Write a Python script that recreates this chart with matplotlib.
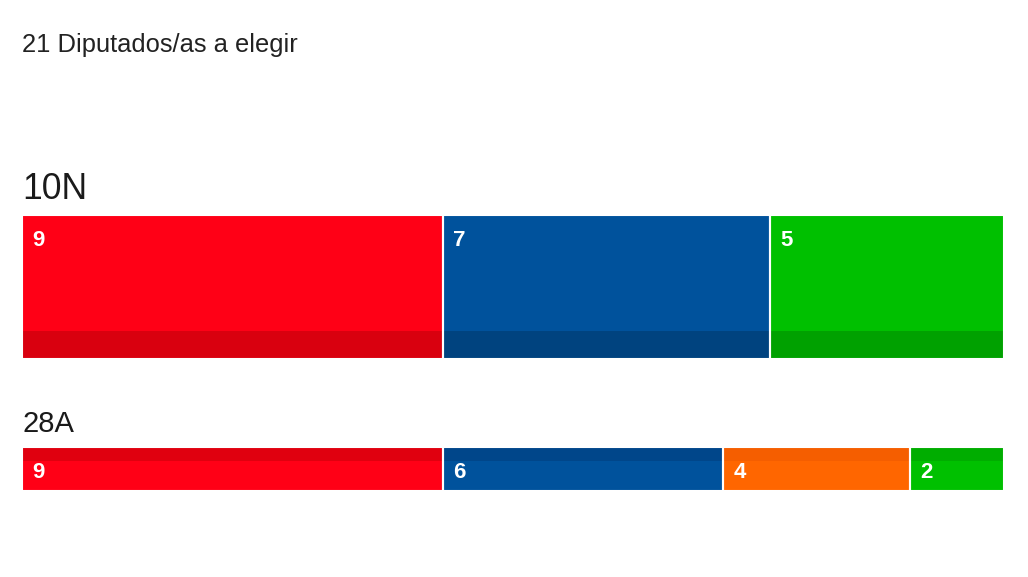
import matplotlib.pyplot as plt

plt.rcParams['font.family'] = ['Liberation Sans', 'DejaVu Sans']

total = 21
title = "21 Diputados/as a elegir"

seats_10n = [9, 7, 5]
colors_10n = ['#ff0016', '#00529c', '#00c000']
dark_10n = ['#d9000f', '#00437f', '#00a100']

seats_28a = [9, 6, 4, 2]
colors_28a = ['#ff0016', '#00529c', '#ff6600', '#00c000']
dark_28a = ['#e0000f', '#00468a', '#f55e00', '#00ad00']

W, H = 1028, 577
fig = plt.figure(figsize=(W / 100, H / 100), dpi=100)
fig.patch.set_facecolor('white')


def px_axes(x0, y0, x1, y1):
    # pixel box (top-left origin) -> axes
    return fig.add_axes([x0 / W, 1 - y1 / H, (x1 - x0) / W, (y1 - y0) / H])


def draw_bar(ax, seats, colors, dark, strip, strip_top, label_top):
    lefts = [sum(seats[:i]) for i in range(len(seats))]
    ax.barh(0, seats, left=lefts, height=1, color=colors, linewidth=0)
    yc = 0.5 - strip / 2 if strip_top else -0.5 + strip / 2
    ax.barh(yc, seats, left=lefts, height=strip, color=dark, linewidth=0)
    # white separators between parties
    ax.barh(0, seats, left=lefts, height=1, facecolor='none',
            edgecolor='white', linewidth=1.5)
    for l, v in zip(lefts, seats):
        if label_top:
            ax.annotate(str(v), xy=(l, 0.5), xytext=(10, -15), textcoords='offset pixels',
                        ha='left', va='top', color='white', fontsize=16,
                        fontweight='bold', zorder=5)
        else:
            ax.annotate(str(v), xy=(l, 0), xytext=(10, -3), textcoords='offset pixels',
                        ha='left', va='center', color='white', fontsize=16,
                        fontweight='bold', zorder=5)
    ax.set_xlim(0, total)
    ax.set_ylim(-0.5, 0.5)
    ax.axis('off')


ax1 = px_axes(22, 215, 1004, 359)
draw_bar(ax1, seats_10n, colors_10n, dark_10n, 28 / 144, False, True)

ax2 = px_axes(22, 447, 1004, 491)
draw_bar(ax2, seats_28a, colors_28a, dark_28a, 0.32, True, False)

fig.text(22 / W, 1 - 52 / H, title, fontsize=18.4, color='#222222', va='baseline', ha='left')
fig.text(22 / W, 1 - 199 / H, "10N", fontsize=25.6, color='#1a1a1a', va='baseline', ha='left')
fig.text(22 / W, 1 - 432 / H, "28A", fontsize=21, color='#1a1a1a', va='baseline', ha='left')

fig.savefig('out.png', dpi=100, facecolor='white')
